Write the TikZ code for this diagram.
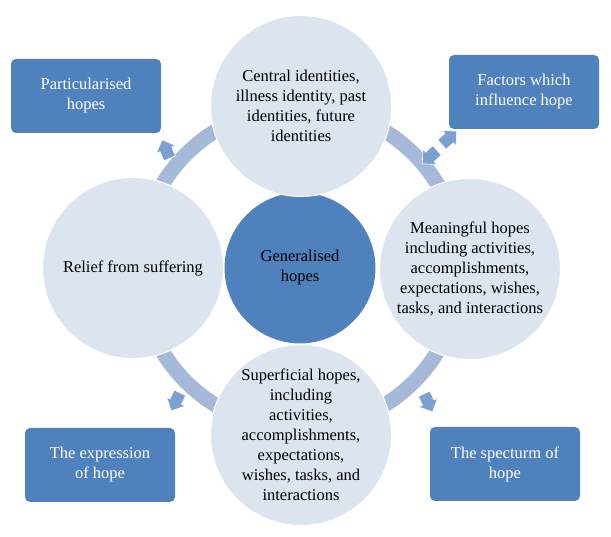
\documentclass[tikz,border=0pt]{standalone}
\usepackage{fontspec}
\setmainfont{Liberation Serif}
\usetikzlibrary{shapes.arrows}
\definecolor{ringblue}{RGB}{167,185,217}
\definecolor{paleblue}{RGB}{220,228,240}
\definecolor{hopeblue}{RGB}{79,129,189}
\definecolor{arrowblue}{RGB}{124,160,210}
\begin{document}
\begin{tikzpicture}[x=1pt,y=1pt,
  every node/.style={font=\fontsize{16.5}{20}\selectfont, align=center},
  bubble/.style={circle, fill=paleblue, draw=white, line width=1pt, minimum size=181pt, inner sep=0pt},
  hub/.style={circle, fill=hopeblue, draw=white, line width=1pt, minimum size=152pt, inner sep=0pt},
  tag/.style={rectangle, rounded corners=5pt, fill=hopeblue, text=white, minimum width=150pt, minimum height=74pt},
  blockarrow/.style={single arrow, fill=arrowblue, draw=white, line width=0.6pt, minimum height=20pt, inner xsep=0pt, inner ysep=6pt, single arrow head extend=4pt}]
\useasboundingbox (0,0) rectangle (611,537);
\draw[ringblue, line width=15pt] (300,269) circle (161pt);
\node[blockarrow, rotate=112] (aul) at (167,385) {};
\node[blockarrow, rotate=42] (aur) at (447,397) {};
\node[blockarrow, rotate=222] (aurin) at (432,382) {};
\node[blockarrow, rotate=-115] (all) at (177,138) {};
\node[blockarrow, rotate=-65] (alr) at (427,137) {};
\node[hub] (gen) at (300,269) {Generalised\\hopes};
\node[bubble] (cid) at (301,431) {Central identities,\\illness identity, past\\identities, future\\identities};
\node[bubble] (relief) at (133,269) {Relief from suffering};
\node[bubble] (meaning) at (470,268) {Meaningful hopes\\including activities,\\accomplishments,\\expectations, wishes,\\tasks, and interactions};
\node[bubble] (superf) at (301,102) {Superficial hopes,\\including\\activities,\\accomplishments,\\expectations,\\wishes, tasks, and\\interactions};
\node[tag] (particular) at (86,441) {Particularised\\hopes};
\node[tag] (factors) at (524,445) {Factors which\\influence hope};
\node[tag] (express) at (100,72) {The expression\\of hope};
\node[tag] (spectrum) at (505,73) {The specturm of\\hope};
\end{tikzpicture}
\end{document}
